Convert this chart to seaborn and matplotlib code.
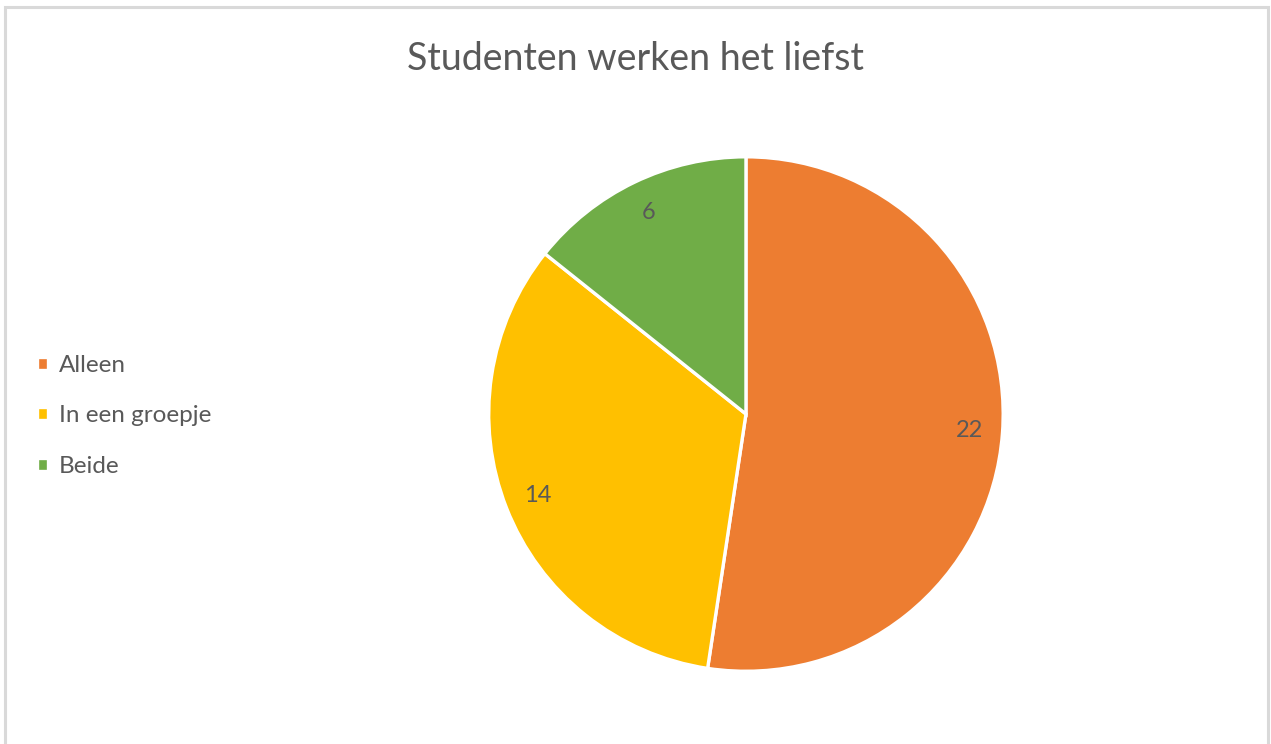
import matplotlib
matplotlib.use('Agg')
import matplotlib.pyplot as plt
import seaborn as sns
from matplotlib.patches import Rectangle

# ── DATA ────────────────────────────────────────────────────
categories = ['Alleen', 'In een groepje', 'Beide']
counts     = [22, 14, 6]
colors     = ['#ED7D31', '#FFC000', '#70AD47']
title      = 'Studenten werken het liefst'

sns.set_theme(style='white')
plt.rcParams['font.family'] = ['Lato', 'DejaVu Sans']
text_color = '#595959'

fig = plt.figure(figsize=(12.71, 7.44), dpi=100)
fig.patch.set_facecolor('white')

# light grey chart-area frame
fig.patches.append(Rectangle((0.004, -0.01), 0.994, 1.0, transform=fig.transFigure,
                             fill=False, edgecolor='#D9D9D9', linewidth=2.2))

ax = fig.add_axes([0.3855, 0.0995, 0.4028, 0.688])
total = sum(counts)
wedges, texts, autotexts = ax.pie(
    counts, colors=colors, startangle=90, counterclock=False,
    autopct=lambda p: f'{round(p * total / 100):d}', pctdistance=0.87,
    wedgeprops={'edgecolor': 'white', 'linewidth': 2.4},
    textprops={'color': text_color, 'fontsize': 17})
ax.set_xlim(-0.995, 0.995)
ax.set_ylim(-0.995, 0.995)
ax.set_aspect('equal')
ax.axis('off')

fig.suptitle(title, x=0.5, y=0.945, fontsize=27, color=text_color)

fig.legend(wedges, categories, loc='center left', bbox_to_anchor=(0.012, 0.441),
           frameon=False, fontsize=17.5, labelcolor=text_color,
           handlelength=0.45, handleheight=0.45, handletextpad=0.45,
           labelspacing=1.22)

fig.savefig('out.png', dpi=100, facecolor='white')
